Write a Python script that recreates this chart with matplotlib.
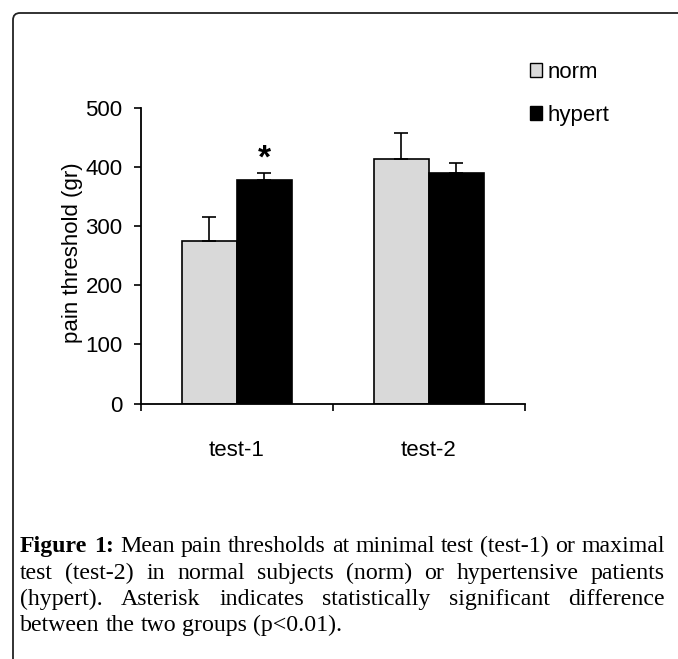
import matplotlib
matplotlib.use("Agg")
import matplotlib.pyplot as plt
from matplotlib.patches import FancyBboxPatch, Patch
from matplotlib.transforms import IdentityTransform
import numpy as np

# Data
categories = ["test-1", "test-2"]
groups = ["norm", "hypert"]
norm_mean = [275, 414]
norm_err = [41, 45]
hypert_mean = [378, 391]
hypert_err = [13, 17]
bar_colors = ["#d9d9d9", "#000000"]
y_ticks = [0, 100, 200, 300, 400, 500]
y_label = "pain threshold (gr)"
star_group = 0

caption_lines = [
    "Figure 1: Mean pain thresholds at minimal test (test-1) or maximal",
    "test (test-2) in normal subjects (norm) or hypertensive patients",
    "(hypert). Asterisk indicates statistically significant difference",
    "between the two groups (p<0.01).",
]

W, H = 678, 659
SANS = "Liberation Sans"
SERIF = "Liberation Serif"

fig = plt.figure(figsize=(W / 100, H / 100), dpi=100)
fig.patch.set_facecolor("white")

# rounded frame, cut by the right and bottom edges
frame = FancyBboxPatch(
    (13, -60), 720, H - 13 + 60,
    boxstyle="round,pad=0,rounding_size=7",
    transform=IdentityTransform(),
    facecolor="none", edgecolor="#222222", linewidth=1.3,
)
fig.add_artist(frame)

ax = fig.add_axes([140.7 / W, 1 - 403.5 / H, 384.3 / W, 295.2 / H])

x = np.arange(len(categories))
bw = 0.286
ax.bar(x - bw / 2, norm_mean, bw, color=bar_colors[0], edgecolor="black",
       linewidth=1.2, zorder=2)
ax.bar(x + bw / 2, hypert_mean, bw, color=bar_colors[1], edgecolor="black",
       linewidth=1.2, zorder=2)
ax.errorbar(x - bw / 2, norm_mean, yerr=[np.zeros(2), norm_err], fmt="none",
            ecolor="black", elinewidth=1.2, capsize=5, capthick=1.2, zorder=3)
ax.errorbar(x + bw / 2, hypert_mean, yerr=[np.zeros(2), hypert_err], fmt="none",
            ecolor="black", elinewidth=1.2, capsize=5, capthick=1.2, zorder=1)

# significance asterisk
ax.text(x[star_group] + bw / 2, hypert_mean[star_group] + hypert_err[star_group] - 4,
        "*", ha="center", va="bottom", fontsize=24, fontweight="bold", family=SANS)

ax.set_xlim(-0.5, 1.5)
ax.set_ylim(0, 500)
ax.set_yticks(y_ticks)
ax.set_yticklabels([str(v) for v in y_ticks], family=SANS, fontsize=16)
ax.set_xticks(x)
ax.set_xticklabels(categories, family=SANS, fontsize=16)
ax.set_xticks([-0.5, 0.5, 1.5], minor=True)
ax.tick_params(axis="x", which="major", length=0, pad=26)
ax.tick_params(axis="x", which="minor", length=5, width=1.2, direction="out")
ax.tick_params(axis="y", length=5, width=1.2, direction="out", pad=8)
for s in ["top", "right"]:
    ax.spines[s].set_visible(False)
for s in ["left", "bottom"]:
    ax.spines[s].set_linewidth(1.3)
ax.set_ylabel(y_label, family=SANS, fontsize=16)
ax.yaxis.set_label_coords(-0.15, 0.51)

handles = [Patch(facecolor=c, edgecolor="black", linewidth=1.0) for c in bar_colors]
fig.legend(handles, groups, loc="upper left", bbox_to_anchor=(530 / W, 1 - 62 / H),
           frameon=False, prop={"family": SANS, "size": 16}, handlelength=0.55,
           handleheight=0.6, handletextpad=0.25, labelspacing=1.0,
           borderpad=0, borderaxespad=0)

# justified caption, font size fitted so the first line is close to natural width
renderer = fig.canvas.get_renderer()
x0, x1 = 20, 665
probe = fig.text(0, 0, caption_lines[0], family=SERIF, fontsize=10)
cap_size = 10 * (x1 - x0 - 8) / probe.get_window_extent(renderer).width
probe.remove()
baselines = [552, 579, 605, 631]
for li, line in enumerate(caption_lines):
    words = line.split(" ")
    texts = []
    for wi, w in enumerate(words):
        bold = li == 0 and wi < 2
        t = fig.text(0, 1 - baselines[li] / H, w, family=SERIF, fontsize=cap_size,
                     fontweight="bold" if bold else "normal", va="baseline",
                     ha="left")
        texts.append(t)
    widths = [t.get_window_extent(renderer).width for t in texts]
    if li < len(caption_lines) - 1:
        gap = (x1 - x0 - sum(widths)) / (len(words) - 1)
    else:
        gap = cap_size * 0.25 * 100 / 72
    pos = x0
    for t, w in zip(texts, widths):
        t.set_x(pos / W)
        pos += w + gap

fig.savefig("out.png", dpi=100)
